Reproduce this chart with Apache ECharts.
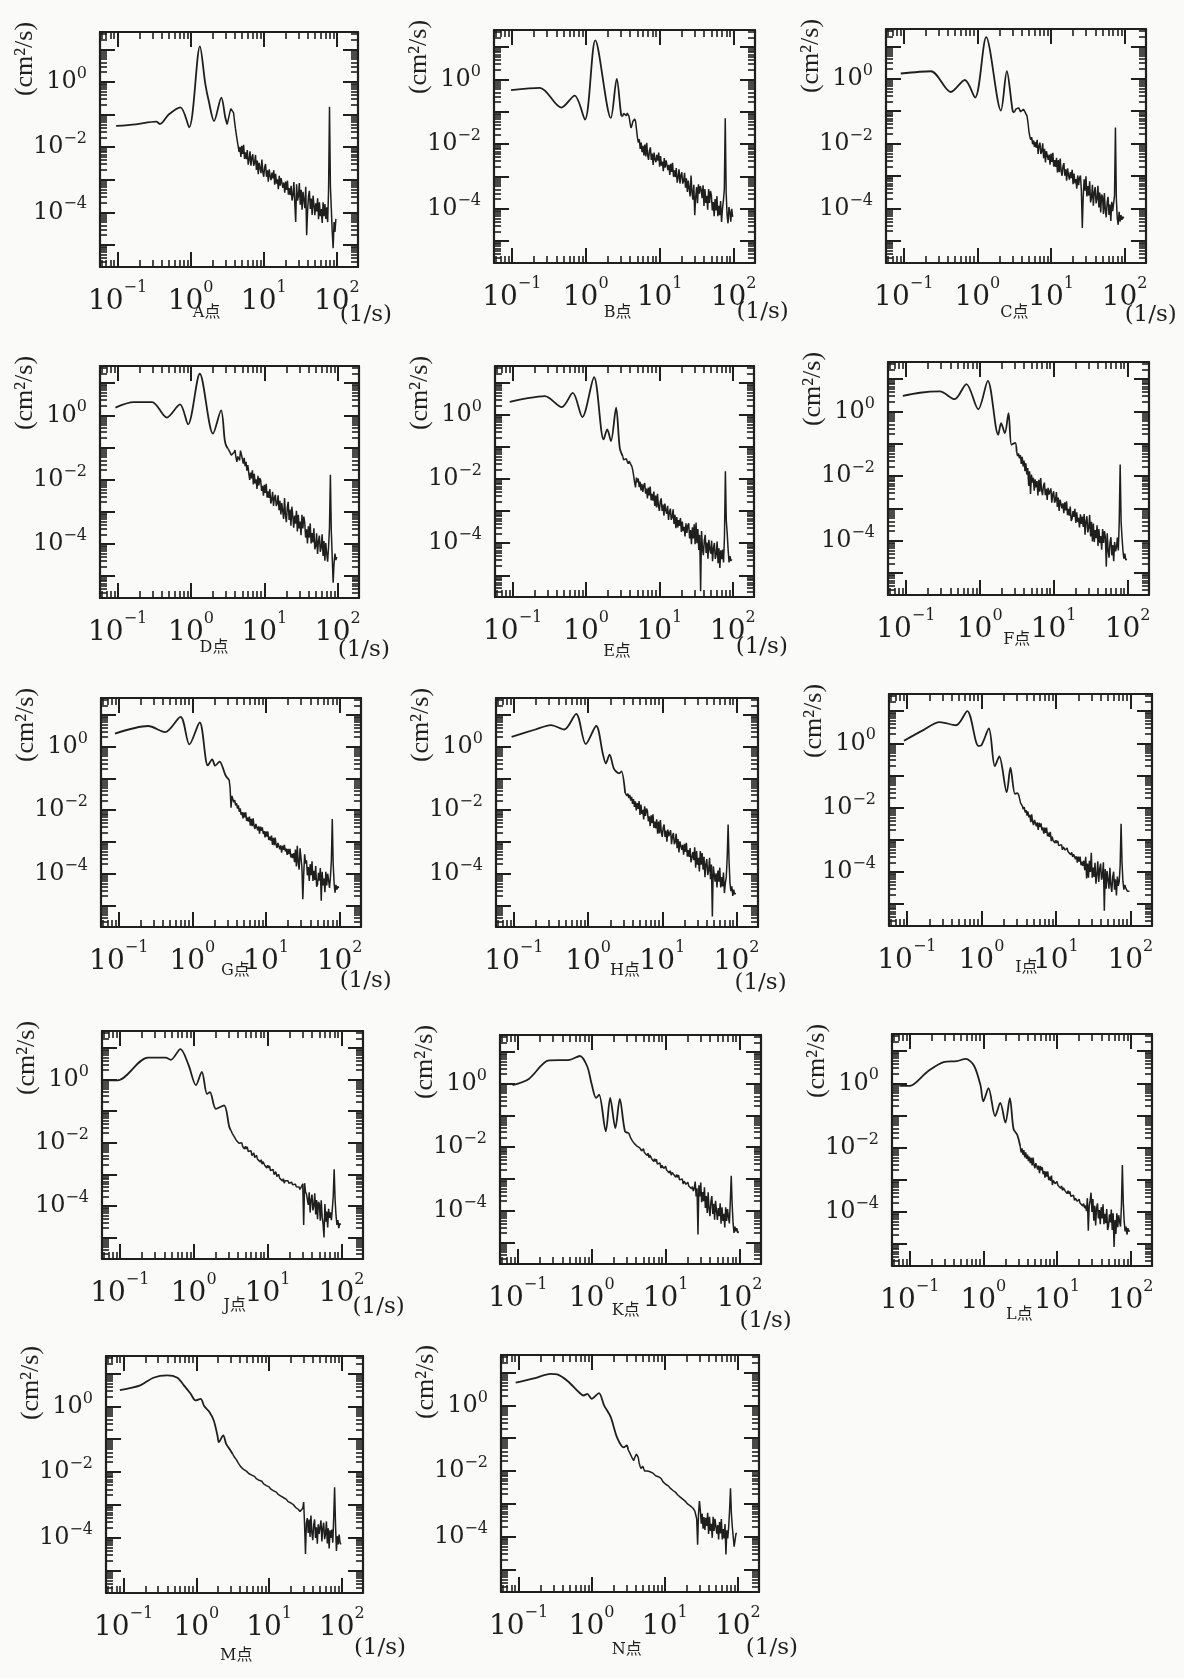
<!DOCTYPE html>
<html>
<head>
<meta charset="utf-8">
<script src="https://cdn.jsdelivr.net/npm/echarts@6/dist/echarts.min.js"></script>
<style>
  html, body { margin: 0; padding: 0; background: #fafaf8; }
  #chart { width: 1184px; height: 1678px; }
</style>
</head>
<body>
<div id="chart"></div>
<script>
// Velocity spectra at measuring points A–N, log-log (frequency 1/s vs. spectral density cm²/s).
// Values are kept as log10 of frequency and log10 of spectral density.

const panelNames = ['A', 'B', 'C', 'D', 'E', 'F', 'G', 'H', 'I', 'J', 'K', 'L', 'M', 'N'];

// common high-frequency sampling grid, log10(f)
const lgFreqFine = [
  0.5000,0.5125,0.5250,0.5375,0.5500,0.5625,0.5750,0.5875,0.6000,0.6125,0.6250,0.6375,
  0.6500,0.6625,0.6750,0.6875,0.7000,0.7125,0.7250,0.7375,0.7500,0.7625,0.7750,0.7875,
  0.8000,0.8125,0.8250,0.8375,0.8500,0.8625,0.8750,0.8875,0.9000,0.9125,0.9250,0.9375,
  0.9500,0.9625,0.9750,0.9875,1.0000,1.0125,1.0250,1.0375,1.0500,1.0625,1.0750,1.0875,
  1.1000,1.1125,1.1250,1.1375,1.1500,1.1625,1.1750,1.1875,1.2000,1.2125,1.2250,1.2375,
  1.2500,1.2625,1.2750,1.2875,1.3000,1.3125,1.3250,1.3375,1.3500,1.3625,1.3750,1.3875,
  1.4000,1.4125,1.4250,1.4375,1.4500,1.4625,1.4750,1.4875,1.5000,1.5125,1.5250,1.5375,
  1.5500,1.5625,1.5750,1.5875,1.6000,1.6125,1.6250,1.6375,1.6500,1.6625,1.6750,1.6875,
  1.7000,1.7125,1.7250,1.7375,1.7500,1.7625,1.7750,1.7875,1.8000,1.8125,1.8250,1.8375,
  1.8500,1.8625,1.8750,1.8875,1.9000,1.9125,1.9250,1.9375,1.9500,1.9625,1.9750,1.9875
];

// low-frequency part: [log10 f, log10 S] vertices
const lowA = [[-1.02,-1.35],[-0.75,-1.30],[-0.47,-1.22],[-0.42,-1.29],[-0.30,-1.00],[-0.14,-0.78],[-0.02,-1.39],[0.127,1.09],[0.20,-0.05],[0.25,-0.61],[0.32,-1.20],[0.42,-0.48],[0.475,-1.10]];
const lowB = [[-1.01,-0.33],[-0.62,-0.26],[-0.33,-0.87],[-0.15,-0.50],[-0.01,-1.24],[0.13,1.21],[0.34,-1.19],[0.42,0.02],[0.48,-1.10]];
const lowC = [[-1.04,0.16],[-0.63,0.23],[-0.36,-0.41],[-0.17,-0.04],[-0.03,-0.58],[0.12,1.28],[0.32,-0.98],[0.40,0.23],[0.48,-1.00]];
const lowD = [[-1.03,0.24],[-0.78,0.41],[-0.53,0.41],[-0.33,-0.07],[-0.15,0.34],[-0.04,-0.28],[0.12,1.29],[0.30,-0.57],[0.41,0.15],[0.46,-0.77],[0.48,-0.95]];
const lowE = [[-1.04,0.41],[-0.81,0.52],[-0.56,0.59],[-0.33,0.25],[-0.18,0.69],[-0.05,-0.06],[0.11,1.18],[0.24,-0.76],[0.29,-0.45],[0.34,-0.81],[0.41,0.23],[0.46,-1.02]];
const lowF = [[-1.04,0.48],[-0.81,0.58],[-0.54,0.62],[-0.34,0.38],[-0.18,0.85],[-0.02,0.07],[0.11,0.95],[0.25,-0.72],[0.29,-0.36],[0.34,-0.67],[0.39,-0.05],[0.43,-1.03],[0.48,-0.97]];
const lowG = [[-1.05,0.41],[-0.60,0.65],[-0.37,0.46],[-0.16,0.94],[-0.04,0.07],[0.10,0.76],[0.21,-0.59],[0.27,-0.40],[0.31,-0.60],[0.37,-0.47],[0.45,-0.90]];
const lowH = [[-1.03,0.31],[-0.71,0.54],[-0.50,0.68],[-0.32,0.54],[-0.16,1.03],[-0.03,0.08],[0.11,0.65],[0.20,-0.23],[0.24,-0.53],[0.29,-0.25],[0.35,-0.70],[0.42,-0.84],[0.45,-0.78]];
const lowI = [[-1.04,0.08],[-0.78,0.41],[-0.56,0.66],[-0.34,0.56],[-0.19,1.00],[-0.04,-0.08],[0.00,-0.06],[0.10,0.46],[0.18,-0.71],[0.24,-0.41],[0.34,-1.52],[0.39,-0.76],[0.45,-1.57],[0.48,-1.55]];
const lowJ = [[-1.17,-0.03],[-1.03,-0.03],[-0.62,0.69],[-0.38,0.69],[-0.31,0.62],[-0.18,0.96],[-0.07,0.46],[0.03,-0.18],[0.11,0.24],[0.18,-0.46],[0.22,-0.40],[0.30,-0.93],[0.41,-0.82],[0.48,-1.49]];
const lowK = [[-1.07,-0.05],[-0.85,0.15],[-0.58,0.73],[-0.30,0.75],[-0.16,0.87],[-0.06,0.54],[0.00,-0.02],[0.06,-0.45],[0.10,-0.35],[0.19,-1.50],[0.25,-0.45],[0.32,-1.40],[0.38,-0.48],[0.45,-1.50]];
const lowL = [[-1.14,-0.08],[-1.00,-0.08],[-0.76,0.36],[-0.54,0.66],[-0.36,0.69],[-0.24,0.76],[-0.13,0.56],[-0.04,-0.05],[0.00,-0.56],[0.07,-0.15],[0.16,-1.02],[0.23,-0.61],[0.30,-1.22],[0.36,-0.46],[0.41,-1.42],[0.46,-1.60]];
const lowM = [[-1.05,0.49],[-0.77,0.64],[-0.59,0.87],[-0.40,0.94],[-0.26,0.87],[-0.17,0.64],[-0.08,0.39],[-0.01,0.18],[0.06,0.23],[0.11,0.00],[0.18,-0.17],[0.24,-0.43],[0.29,-0.88],[0.31,-1.09],[0.37,-0.88],[0.41,-1.14],[0.47,-1.34]];
const lowN = [[-1.04,0.69],[-0.79,0.82],[-0.56,0.96],[-0.47,0.94],[-0.33,0.74],[-0.17,0.39],[-0.11,0.30],[-0.06,0.35],[0.00,0.20],[0.10,0.37],[0.17,0.00],[0.26,-0.35],[0.35,-0.99],[0.44,-1.28],[0.48,-1.22]];

// high-frequency part: log10 S on lgFreqFine
const hiA = [
  -1.30,-1.18,-1.05,-0.92,-0.82,-0.76,-0.76,-0.95,-1.20,-1.42,-1.62,-1.80,
  -1.82,-2.15,-1.99,-2.30,-1.96,-2.21,-1.93,-2.36,-2.16,-2.37,-2.09,-2.54,
  -2.38,-2.13,-2.57,-2.32,-2.22,-2.57,-2.49,-2.24,-2.70,-2.41,-2.83,-2.48,
  -2.43,-2.80,-2.38,-2.76,-2.91,-2.62,-2.52,-2.91,-2.71,-3.06,-2.68,-2.89,
  -3.01,-2.78,-2.96,-2.71,-3.15,-2.82,-3.12,-2.99,-3.29,-2.88,-3.18,-2.95,
  -2.92,-3.25,-3.09,-3.40,-3.06,-3.31,-3.03,-3.46,-3.26,-3.47,-3.19,-3.64,
  -3.47,-3.07,-3.71,-4.30,-3.14,-3.64,-3.50,-3.10,-3.77,-3.31,-3.92,-3.37,
  -3.34,-3.87,-3.22,-4.70,-3.97,-3.51,-3.34,-3.90,-3.58,-4.08,-3.49,-3.78,
  -4.09,-3.72,-3.97,-3.57,-4.21,-3.69,-4.12,-3.90,-4.33,-3.69,-4.12,-3.75,
  -4.20,-3.85,-4.30,-3.30,-0.76,-3.20,-3.90,-4.60,-5.10,-4.30,-4.60,-4.20];
const hiB = [
  -1.14,-1.05,-1.00,-1.08,-1.12,-1.04,-1.02,-1.15,-1.35,-1.50,-1.42,-1.30,
  -1.25,-1.22,-1.30,-1.55,-1.80,-1.95,-1.85,-2.15,-1.95,-2.25,-2.05,-2.35,
  -2.01,-2.38,-1.96,-2.34,-2.49,-2.20,-2.10,-2.49,-2.29,-2.64,-2.26,-2.47,
  -2.56,-2.33,-2.51,-2.26,-2.70,-2.37,-2.67,-2.54,-2.84,-2.43,-2.73,-2.50,
  -2.47,-2.80,-2.64,-2.95,-2.61,-2.86,-2.58,-3.01,-2.81,-3.02,-2.74,-3.19,
  -3.03,-2.78,-3.22,-2.97,-2.87,-3.22,-3.14,-2.89,-3.35,-3.06,-3.48,-3.13,
  -3.09,-3.62,-2.97,-3.50,-3.72,-3.26,-4.20,-3.65,-3.33,-3.83,-3.24,-3.53,
  -3.30,-3.42,-3.67,-3.27,-3.91,-3.39,-3.82,-3.60,-4.03,-3.39,-3.82,-3.45,
  -3.58,-4.05,-3.79,-4.23,-3.70,-4.05,-3.61,-4.23,-3.91,-4.20,-3.76,-4.41,
  -4.00,-3.75,-3.40,-1.20,-3.50,-4.20,-4.45,-3.95,-4.10,-4.40,-4.00,-4.25];
const hiC = [
  -1.04,-0.98,-0.93,-0.89,-0.88,-0.90,-0.96,-1.02,-1.05,-0.98,-0.94,-0.99,
  -1.04,-1.06,-1.15,-1.35,-1.62,-1.78,-1.88,-1.80,-2.02,-1.90,-2.10,-1.95,
  -2.13,-1.88,-2.32,-2.07,-1.97,-2.32,-2.24,-1.99,-2.45,-2.16,-2.58,-2.23,
  -2.17,-2.50,-2.34,-2.65,-2.31,-2.56,-2.28,-2.71,-2.51,-2.72,-2.44,-2.89,
  -2.51,-2.88,-2.46,-2.84,-2.99,-2.70,-2.60,-2.99,-2.79,-3.14,-2.76,-2.97,
  -3.11,-2.88,-3.06,-2.81,-3.25,-2.92,-3.22,-3.09,-3.39,-2.98,-3.28,-3.05,
  -2.98,-3.45,-4.60,-3.63,-3.10,-3.45,-3.01,-3.63,-3.31,-3.60,-3.16,-3.81,
  -3.67,-3.27,-3.91,-3.51,-3.34,-3.84,-3.70,-3.30,-3.97,-3.51,-4.12,-3.57,
  -3.64,-4.17,-3.52,-4.05,-4.27,-3.81,-3.64,-4.20,-3.88,-4.38,-3.79,-4.08,
  -4.05,-3.60,-1.50,-3.70,-4.30,-4.50,-4.10,-4.40,-4.20,-4.35,-4.25,-4.30];
const hiD = [
  -1.02,-1.08,-1.12,-1.18,-1.24,-1.20,-1.25,-1.15,-1.08,-1.30,-1.45,-1.28,
  -1.22,-1.40,-1.10,-1.08,-1.35,-1.50,-1.32,-1.58,-1.45,-1.72,-1.55,-1.80,
  -2.01,-1.78,-1.96,-1.71,-2.15,-1.82,-2.12,-1.99,-2.29,-1.88,-2.18,-1.95,
  -2.02,-2.35,-2.19,-2.50,-2.16,-2.41,-2.13,-2.56,-2.36,-2.57,-2.29,-2.74,
  -2.63,-2.38,-2.82,-2.57,-2.47,-2.82,-2.74,-2.49,-2.95,-2.66,-3.08,-2.73,
  -2.69,-3.22,-2.57,-3.10,-3.32,-2.86,-2.69,-3.25,-2.93,-3.43,-2.84,-3.13,
  -3.49,-3.12,-3.37,-2.97,-3.61,-3.09,-3.52,-3.30,-3.73,-3.09,-3.52,-3.15,
  -3.33,-3.80,-3.54,-3.98,-3.45,-3.80,-3.36,-3.98,-3.66,-3.95,-3.51,-4.16,
  -4.07,-3.67,-4.31,-3.91,-3.74,-4.24,-4.10,-3.70,-4.37,-3.91,-4.52,-3.97,
  -4.30,-4.55,-4.10,-3.50,-1.85,-3.60,-4.40,-5.20,-4.60,-4.30,-4.50,-4.40];
const hiE = [
  -1.28,-1.40,-1.45,-1.38,-1.36,-1.45,-1.52,-1.44,-1.42,-1.48,-1.60,-1.72,
  -1.90,-2.10,-2.26,-1.95,-2.10,-1.98,-2.25,-2.08,-2.35,-2.15,-2.40,-2.20,
  -2.12,-2.45,-2.29,-2.60,-2.26,-2.51,-2.23,-2.66,-2.46,-2.67,-2.39,-2.84,
  -2.51,-2.88,-2.46,-2.84,-2.99,-2.70,-2.60,-2.99,-2.79,-3.14,-2.76,-2.97,
  -3.08,-2.83,-3.27,-3.02,-2.92,-3.27,-3.19,-2.94,-3.40,-3.11,-3.53,-3.18,
  -3.51,-3.28,-3.46,-3.21,-3.65,-3.32,-3.62,-3.49,-3.79,-3.38,-3.68,-3.45,
  -3.38,-3.85,-3.59,-4.03,-3.50,-3.85,-3.41,-4.03,-3.35,-4.00,-3.56,-4.21,
  -3.74,-5.50,-3.62,-4.15,-4.37,-3.91,-3.74,-4.30,-3.98,-4.48,-3.89,-4.18,
  -4.32,-3.92,-4.56,-4.16,-3.99,-4.49,-4.35,-3.95,-4.62,-4.16,-4.77,-4.22,
  -4.50,-4.20,-4.60,-3.80,-1.75,-3.30,-3.70,-4.20,-4.60,-4.40,-4.55,-4.50];
const hiF = [
  -1.25,-1.38,-1.30,-1.45,-1.35,-1.62,-1.40,-1.70,-1.52,-1.85,-1.60,-1.95,
  -1.75,-2.30,-1.85,-2.55,-1.95,-2.20,-2.05,-2.45,-2.10,-2.35,-2.15,-2.60,
  -2.11,-2.48,-2.06,-2.44,-2.59,-2.30,-2.20,-2.59,-2.39,-2.74,-2.36,-2.57,
  -2.63,-2.38,-2.82,-2.57,-2.47,-2.82,-2.74,-2.49,-2.95,-2.66,-3.08,-2.73,
  -2.67,-3.00,-2.84,-3.15,-2.81,-3.06,-2.78,-3.21,-3.01,-3.22,-2.94,-3.39,
  -3.31,-3.08,-3.26,-3.01,-3.45,-3.12,-3.42,-3.29,-3.59,-3.18,-3.48,-3.25,
  -3.57,-3.17,-3.81,-3.41,-3.24,-3.74,-3.60,-3.20,-3.87,-3.41,-4.02,-3.47,
  -4.04,-3.67,-3.92,-3.52,-4.16,-3.64,-4.07,-3.85,-4.28,-3.64,-4.07,-3.70,
  -3.89,-4.80,-3.77,-4.30,-4.52,-4.06,-3.89,-4.45,-4.13,-4.63,-4.04,-4.33,
  -4.20,-3.90,-4.30,-3.40,-1.64,-3.40,-3.90,-4.30,-4.55,-4.40,-4.60,-4.55];
const hiG = [
  -1.05,-1.30,-1.92,-1.55,-1.60,-1.75,-1.68,-1.85,-1.78,-1.95,-1.85,-2.05,
  -1.94,-2.15,-2.06,-2.26,-2.07,-2.23,-2.07,-2.34,-2.23,-2.36,-2.20,-2.49,
  -2.27,-2.50,-2.26,-2.49,-2.59,-2.43,-2.38,-2.63,-2.51,-2.74,-2.52,-2.65,
  -2.54,-2.75,-2.66,-2.86,-2.67,-2.83,-2.67,-2.94,-2.83,-2.96,-2.80,-3.09,
  -2.87,-3.10,-2.86,-3.09,-3.19,-3.03,-2.98,-3.23,-3.11,-3.34,-3.12,-3.25,
  -3.09,-3.30,-3.21,-3.41,-3.22,-3.38,-3.22,-3.49,-3.38,-3.51,-3.35,-3.64,
  -3.24,-3.77,-3.12,-3.65,-3.87,-3.20,-3.25,-3.80,-4.80,-3.98,-3.39,-3.68,
  -3.58,-4.05,-3.79,-4.23,-3.70,-4.05,-3.61,-4.23,-3.91,-4.20,-3.76,-4.41,
  -4.34,-3.97,-4.22,-3.82,-4.85,-3.94,-4.37,-4.15,-4.58,-3.94,-4.37,-4.00,
  -4.20,-4.45,-4.10,-3.60,-2.28,-3.70,-4.30,-4.60,-4.35,-4.50,-4.40,-4.45];
const hiH = [
  -1.46,-1.40,-1.55,-1.48,-1.62,-1.52,-1.70,-1.58,-1.80,-1.65,-1.90,-1.72,
  -2.01,-1.78,-1.96,-1.71,-2.15,-1.82,-2.12,-1.99,-2.29,-1.88,-2.18,-1.95,
  -2.02,-2.35,-2.19,-2.50,-2.16,-2.41,-2.13,-2.56,-2.36,-2.57,-2.29,-2.74,
  -2.36,-2.73,-2.31,-2.69,-2.84,-2.55,-2.45,-2.84,-2.64,-2.99,-2.61,-2.82,
  -2.88,-2.63,-3.07,-2.82,-2.72,-3.07,-2.99,-2.74,-3.20,-2.91,-3.33,-2.98,
  -2.92,-3.25,-3.09,-3.40,-3.06,-3.31,-3.03,-3.46,-3.26,-3.47,-3.19,-3.64,
  -3.69,-3.32,-3.57,-3.17,-3.81,-3.29,-3.72,-3.50,-3.93,-3.29,-3.72,-3.35,
  -3.87,-3.47,-4.11,-3.71,-3.54,-4.04,-3.90,-3.50,-4.17,-3.71,-5.35,-3.77,
  -3.78,-4.25,-3.99,-4.43,-3.90,-4.25,-3.81,-4.43,-4.11,-4.40,-3.96,-4.61,
  -4.30,-4.10,-3.50,-2.45,-3.60,-4.30,-4.55,-4.40,-4.70,-4.50,-4.65,-4.60];
const hiI = [
  -1.60,-1.72,-1.85,-1.80,-1.95,-2.05,-1.98,-2.15,-2.08,-2.25,-2.12,-2.30,
  -2.22,-2.45,-2.21,-2.44,-2.54,-2.38,-2.33,-2.58,-2.46,-2.69,-2.47,-2.60,
  -2.49,-2.70,-2.61,-2.81,-2.62,-2.78,-2.62,-2.89,-2.78,-2.91,-2.75,-3.04,
  -2.90,-3.02,-2.98,-3.10,-3.01,-3.10,-3.03,-3.18,-3.14,-3.22,-3.15,-3.31,
  -3.22,-3.17,-3.32,-3.26,-3.25,-3.37,-3.36,-3.31,-3.46,-3.39,-3.53,-3.45,
  -3.39,-3.60,-3.51,-3.71,-3.52,-3.68,-3.52,-3.79,-3.68,-3.81,-3.65,-3.94,
  -3.53,-4.20,-3.74,-4.18,-3.65,-4.00,-3.40,-4.18,-3.86,-4.15,-3.71,-4.36,
  -4.07,-3.67,-4.31,-3.91,-3.74,-4.24,-4.10,-3.70,-5.20,-3.91,-4.52,-3.97,
  -3.99,-4.52,-3.87,-4.40,-4.62,-4.16,-3.99,-4.55,-4.23,-4.73,-4.14,-4.43,
  -4.30,-3.80,-2.50,-3.70,-4.30,-4.55,-4.40,-4.50,-4.45,-4.60,-4.55,-4.60];
const hiJ = [
  -1.60,-1.66,-1.72,-1.78,-1.82,-1.88,-1.92,-1.96,-1.95,-2.02,-2.00,-2.06,
  -2.00,-2.12,-2.08,-2.20,-2.11,-2.20,-2.13,-2.28,-2.24,-2.32,-2.25,-2.41,
  -2.37,-2.32,-2.47,-2.41,-2.40,-2.52,-2.51,-2.46,-2.61,-2.54,-2.68,-2.60,
  -2.60,-2.72,-2.68,-2.80,-2.71,-2.80,-2.73,-2.88,-2.84,-2.92,-2.85,-3.01,
  -2.97,-2.92,-3.07,-3.01,-3.00,-3.12,-3.11,-3.06,-3.21,-3.14,-3.28,-3.20,
  -3.17,-3.24,-3.20,-3.28,-3.23,-3.30,-3.25,-3.33,-3.29,-3.36,-3.31,-3.39,
  -3.36,-3.44,-3.40,-3.48,-3.42,-3.50,-3.30,-4.60,-3.28,-3.55,-3.62,-3.80,
  -3.97,-3.57,-4.21,-3.81,-3.64,-4.14,-4.00,-3.60,-4.27,-3.81,-4.42,-3.87,
  -3.94,-4.47,-3.82,-4.35,-4.57,-5.00,-3.94,-4.50,-4.18,-4.68,-4.09,-4.38,
  -4.20,-4.45,-4.10,-3.70,-2.84,-3.80,-4.30,-4.60,-4.45,-4.70,-4.55,-4.60];
const hiK = [
  -1.55,-1.62,-1.70,-1.74,-1.80,-1.84,-1.88,-1.92,-1.90,-1.97,-1.95,-2.02,
  -2.02,-1.97,-2.12,-2.06,-2.05,-2.17,-2.16,-2.11,-2.26,-2.19,-2.33,-2.25,
  -2.25,-2.37,-2.33,-2.45,-2.36,-2.45,-2.38,-2.53,-2.49,-2.57,-2.50,-2.66,
  -2.57,-2.52,-2.67,-2.61,-2.60,-2.72,-2.71,-2.66,-2.81,-2.74,-2.88,-2.80,
  -2.75,-2.87,-2.83,-2.95,-2.86,-2.95,-2.88,-3.03,-2.99,-3.07,-3.00,-3.16,
  -3.07,-3.02,-3.17,-3.11,-3.10,-3.22,-3.21,-3.16,-3.31,-3.24,-3.38,-3.30,
  -3.08,-3.55,-3.29,-4.75,-3.20,-3.55,-3.11,-3.73,-3.41,-3.70,-3.26,-3.91,
  -3.54,-4.07,-3.42,-3.95,-4.17,-3.71,-3.54,-4.10,-3.78,-4.28,-3.69,-3.98,
  -4.29,-3.92,-4.17,-3.77,-4.41,-3.89,-4.32,-4.10,-4.53,-3.89,-4.32,-3.95,
  -4.20,-4.40,-3.70,-2.90,-3.80,-4.40,-4.70,-4.50,-4.65,-4.55,-4.70,-4.65];
const hiL = [
  -1.95,-2.15,-2.02,-2.22,-2.08,-2.30,-2.15,-2.35,-2.22,-2.42,-2.28,-2.48,
  -2.32,-2.55,-2.31,-2.54,-2.64,-2.48,-2.43,-2.68,-2.56,-2.79,-2.57,-2.70,
  -2.61,-2.82,-2.73,-2.93,-2.74,-2.90,-2.74,-3.01,-2.90,-3.03,-2.87,-3.16,
  -3.02,-2.97,-3.12,-3.06,-3.05,-3.17,-3.16,-3.11,-3.26,-3.19,-3.33,-3.25,
  -3.23,-3.35,-3.31,-3.43,-3.34,-3.43,-3.36,-3.51,-3.47,-3.55,-3.48,-3.64,
  -3.57,-3.52,-3.67,-3.61,-3.60,-3.72,-3.71,-3.66,-3.81,-3.74,-3.88,-3.80,
  -3.97,-3.57,-4.58,-3.81,-3.64,-3.40,-4.00,-3.60,-4.27,-3.81,-4.42,-3.87,
  -3.73,-4.20,-3.94,-4.38,-3.85,-4.20,-3.76,-4.38,-4.06,-4.35,-3.91,-4.56,
  -4.44,-4.07,-4.32,-3.92,-4.56,-4.04,-5.09,-4.25,-4.68,-4.04,-4.47,-4.10,
  -4.30,-4.45,-3.80,-2.54,-3.70,-4.30,-4.60,-4.45,-4.70,-4.50,-4.60,-4.58];
const hiM = [
  -1.45,-1.49,-1.55,-1.58,-1.62,-1.67,-1.72,-1.75,-1.78,-1.84,-1.88,-1.90,
  -1.92,-1.96,-1.98,-1.97,-1.96,-2.01,-2.05,-2.04,-2.04,-2.09,-2.12,-2.12,
  -2.13,-2.17,-2.20,-2.19,-2.20,-2.25,-2.28,-2.27,-2.28,-2.33,-2.36,-2.35,
  -2.37,-2.41,-2.44,-2.43,-2.45,-2.49,-2.52,-2.51,-2.53,-2.57,-2.60,-2.59,
  -2.61,-2.65,-2.68,-2.67,-2.69,-2.73,-2.76,-2.75,-2.78,-2.82,-2.84,-2.83,
  -2.86,-2.90,-2.92,-2.91,-2.94,-2.98,-3.00,-3.00,-3.03,-3.07,-3.10,-3.09,
  -3.13,-3.17,-3.20,-3.18,-3.25,-3.10,-2.91,-3.60,-4.49,-3.55,-3.40,-3.85,
  -3.44,-3.97,-3.32,-3.85,-4.07,-3.61,-3.44,-4.00,-3.68,-4.18,-3.59,-3.88,
  -3.87,-3.47,-4.11,-3.71,-3.54,-4.04,-3.90,-3.50,-4.17,-3.71,-4.32,-3.77,
  -4.00,-3.75,-4.15,-3.40,-2.46,-3.60,-4.40,-3.95,-4.20,-3.90,-4.15,-4.20];
const hiN = [
  -1.35,-1.40,-1.46,-1.52,-1.58,-1.64,-1.68,-1.60,-1.55,-1.48,-1.43,-1.58,
  -1.75,-1.85,-1.92,-1.88,-1.85,-1.93,-2.00,-1.97,-1.95,-2.00,-2.04,-2.03,
  -2.02,-2.06,-2.08,-2.06,-2.08,-2.12,-2.14,-2.12,-2.12,-2.17,-2.22,-2.20,
  -2.22,-2.28,-2.32,-2.35,-2.37,-2.40,-2.42,-2.43,-2.45,-2.49,-2.52,-2.53,
  -2.55,-2.59,-2.62,-2.63,-2.65,-2.69,-2.72,-2.73,-2.76,-2.79,-2.82,-2.83,
  -2.86,-2.90,-2.92,-2.93,-2.96,-3.00,-3.02,-3.03,-3.06,-3.09,-3.12,-3.13,
  -3.18,-3.22,-3.25,-3.45,-4.24,-3.30,-2.91,-3.20,-3.60,-3.30,-3.75,-3.40,
  -3.79,-3.42,-3.67,-3.27,-3.91,-3.39,-3.82,-3.60,-4.03,-3.39,-3.82,-3.45,
  -3.43,-3.90,-3.64,-4.08,-3.55,-3.90,-3.46,-4.08,-3.76,-4.05,-3.61,-4.54,
  -3.80,-4.05,-3.70,-3.20,-2.52,-3.30,-3.70,-4.00,-4.30,-4.10,-3.90,-3.90];

const lowParts = [lowA, lowB, lowC, lowD, lowE, lowF, lowG, lowH, lowI, lowJ, lowK, lowL, lowM, lowN];
const highParts = [hiA, hiB, hiC, hiD, hiE, hiF, hiG, hiH, hiI, hiJ, hiK, hiL, hiM, hiN];

// axis ranges and ticks
const X_MIN = 0.0575, X_MAX = 195;
const Y_MIN = 2.1e-6, Y_MAX = 34;
const xMajorTicks = [0.1, 1, 10, 100];
const xMinorTicks = [0.06, 0.07, 0.08, 0.09, 0.2, 0.3, 0.4, 0.5, 0.6, 0.7, 0.8, 0.9,
                     2, 3, 4, 5, 6, 7, 8, 9, 20, 30, 40, 50, 60, 70, 80, 90];
const xLabelTicks = [0.1, 1, 10, 100];
const yMajorTicks = [1e-5, 1e-4, 1e-3, 1e-2, 1e-1, 1, 10];
const yLabelTicks = [1, 1e-2, 1e-4];
const yMinorTicks = [];
[1e-6, 1e-5, 1e-4, 1e-3, 1e-2, 1e-1, 1, 10].forEach(dec => {
  [2, 3, 4, 5, 6, 7, 8, 9].forEach(k => {
    const v = k * dec;
    if (v > Y_MIN && v < Y_MAX) yMinorTicks.push(v);
  });
});

// panel layout: plot box [left, top, width, height]
const boxes = [
  [100, 32, 258, 235], [494, 30, 261, 233], [886, 29, 260, 234],
  [100, 366, 259, 232], [495, 366, 259, 231], [888, 362, 261, 233],
  [101, 698, 260, 229], [496, 698, 262, 229], [889, 694, 263, 232],
  [102, 1031, 261, 228], [500, 1035, 261, 229], [892, 1034, 260, 232],
  [106, 1356, 257, 237], [501, 1355, 258, 237]
];
// point-name caption offset from the 10^0 position / box bottom
const tagOffsets = [[16,46],[32,50],[37,50],[23,50],[31,55],[37,45],[43,44],[37,44],[45,42],[41,47],[34,47],[36,49],[40,63],[35,58]];
// "(1/s)" caption offset from the 10^2 position / box bottom
const unitOffsets = [[3,48],[3,49],[0,52],[0,52],[3,50],null,[0,54],[-2,56],null,[11,48],[0,57],null,[12,55],[8,56]];

const INK = '#1f1f1f';
const SERIF = '"DejaVu Serif", "Noto Sans CJK SC", serif';
const NAME_SERIF = '"Liberation Serif", "DejaVu Serif", serif';

function powerLabel(v) {
  const n = Math.round(Math.log10(v));
  return '{b|10}{s|' + (n < 0 ? '\u2212' + (-n) : String(n)) + '}';
}
const richX = {
  b: { fontFamily: SERIF, fontSize: 28, color: INK, padding: [8, 0, 0, 0] },
  s: { fontFamily: SERIF, fontSize: 16, color: INK, verticalAlign: 'top' }
};
const richY = {
  b: { fontFamily: SERIF, fontSize: 24, color: INK, padding: [4, 0, 4, 0] },
  s: { fontFamily: SERIF, fontSize: 16, color: INK, verticalAlign: 'top' }
};

function makeXAxis(gi, pos, major) {
  const labelled = major && pos === 'bottom';
  return {
    type: 'log', logBase: 10, gridIndex: gi, position: pos, min: X_MIN, max: X_MAX,
    axisLine: { show: major, onZero: false, lineStyle: { color: INK, width: 2.2 } },
    axisTick: { show: true, inside: true, length: major ? 15 : 7,
                customValues: major ? xMajorTicks : xMinorTicks,
                lineStyle: { color: INK, width: major ? 2 : 1.6 } },
    axisLabel: labelled
      ? { show: true, customValues: xLabelTicks, margin: 13, formatter: powerLabel, rich: richX }
      : { show: false },
    splitLine: { show: false }, minorTick: { show: false }, minorSplitLine: { show: false }
  };
}
function makeYAxis(gi, pos, major) {
  const labelled = major && pos === 'left';
  return {
    type: 'log', logBase: 10, gridIndex: gi, position: pos, min: Y_MIN, max: Y_MAX,
    axisLine: { show: major, onZero: false, lineStyle: { color: INK, width: 2.2 } },
    axisTick: { show: true, inside: true, length: major ? 15 : 7,
                customValues: major ? yMajorTicks : yMinorTicks,
                lineStyle: { color: INK, width: major ? 2 : 1.6 } },
    axisLabel: labelled
      ? { show: true, customValues: yLabelTicks, margin: 13, formatter: powerLabel, rich: richY }
      : { show: false },
    splitLine: { show: false }, minorTick: { show: false }, minorSplitLine: { show: false }
  };
}

const toLinear = ([lf, ls]) => [Math.pow(10, lf), Math.pow(10, ls)];

const grid = [], xAxis = [], yAxis = [], series = [];
panelNames.forEach((name, i) => {
  const [l, t, w, h] = boxes[i];
  grid.push({ left: l, top: t, width: w, height: h, show: false });
  xAxis.push(makeXAxis(i, 'bottom', true), makeXAxis(i, 'bottom', false),
             makeXAxis(i, 'top', true), makeXAxis(i, 'top', false));
  yAxis.push(makeYAxis(i, 'left', true), makeYAxis(i, 'left', false),
             makeYAxis(i, 'right', true), makeYAxis(i, 'right', false));
  const high = highParts[i].map((v, k) => [lgFreqFine[k], v]);
  // smooth low-frequency part, joined to the first high-frequency sample
  series.push({
    type: 'line', name: name + '点', xAxisIndex: 4 * i, yAxisIndex: 4 * i,
    data: lowParts[i].concat([high[0]]).map(toLinear),
    smooth: 0.3, showSymbol: false, symbol: 'none', silent: true, clip: true,
    lineStyle: { color: INK, width: 1.8 }
  });
  // dense high-frequency part
  series.push({
    type: 'line', name: name + '点', xAxisIndex: 4 * i, yAxisIndex: 4 * i,
    data: high.map(toLinear),
    showSymbol: false, symbol: 'none', silent: true, clip: true,
    lineStyle: { color: INK, width: 1.5 }
  });
});

const chart = echarts.init(document.getElementById('chart'), null,
  { renderer: 'canvas', width: 1184, height: 1678 });
chart.setOption({
  backgroundColor: '#fafaf8',
  animation: false,
  grid, xAxis, yAxis, series
});

// captions: vertical unit name, point name, frequency unit
const graphic = [];
panelNames.forEach((name, i) => {
  const [l, t, w, h] = boxes[i];
  const xOne = chart.convertToPixel({ xAxisIndex: 4 * i }, 1);
  const xHundred = chart.convertToPixel({ xAxisIndex: 4 * i }, 100);
  graphic.push({
    type: 'text', x: l - 75, y: t + 27, rotation: Math.PI / 2, silent: true,
    style: { text: '(cm²/s)', fontFamily: NAME_SERIF, fontSize: 26, fill: INK, align: 'center', verticalAlign: 'middle' }
  });
  graphic.push({
    type: 'text', x: xOne + tagOffsets[i][0], y: t + h + tagOffsets[i][1], silent: true,
    style: { text: name + '点', fontFamily: SERIF, fontSize: 16, fill: INK, align: 'center', verticalAlign: 'middle' }
  });
  if (unitOffsets[i]) {
    graphic.push({
      type: 'text', x: xHundred + unitOffsets[i][0], y: t + h + unitOffsets[i][1], silent: true,
      style: { text: '(1/s)', fontFamily: SERIF, fontSize: 23, fill: INK, align: 'left', verticalAlign: 'middle' }
    });
  }
});
chart.setOption({ graphic });
</script>
</body>
</html>
